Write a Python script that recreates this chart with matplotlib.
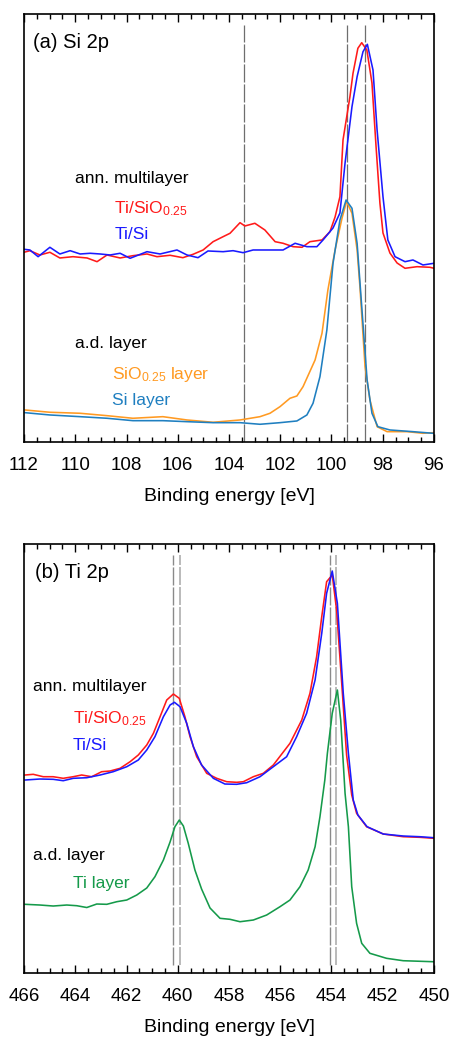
import numpy as np
import matplotlib
matplotlib.use('Agg')
import matplotlib.pyplot as plt
from matplotlib.ticker import MultipleLocator

plt.rcParams['font.family'] = ['Liberation Sans', 'DejaVu Sans']
plt.rcParams['mathtext.fontset'] = 'custom'
plt.rcParams['mathtext.rm'] = 'Liberation Sans'
plt.rcParams['mathtext.it'] = 'Liberation Sans:italic'
plt.rcParams['lines.scale_dashes'] = False

# ---------------- Si 2p (binding energy [eV], intensity [a.u.]) ----------------
si_tisio_E = [112.0, 111.77, 111.38, 110.99, 110.60, 110.09, 109.54, 109.15, 108.76, 108.25,
              107.75, 107.20, 106.81, 106.30, 105.80, 105.40, 105.01, 104.62, 104.23, 103.96,
              103.57, 103.38, 102.99, 102.60, 102.20, 101.89, 101.50, 101.15, 100.84, 100.37,
              100.06, 99.86, 99.67, 99.55, 99.28, 99.16, 98.97, 98.82, 98.62, 98.42,
              98.26, 98.11, 97.99, 97.72, 97.44, 97.13, 96.66, 96.16, 96.0]
si_tisio_I = [189.7, 191.3, 187.0, 189.7, 184.0, 185.3, 184.0, 180.3, 187.0, 184.0,
              186.3, 188.0, 185.3, 186.7, 184.3, 187.7, 192.0, 200.3, 205.3, 208.7,
              219.3, 216.0, 218.7, 212.0, 200.3, 198.7, 195.3, 194.7, 200.3, 202.0,
              210.3, 225.0, 245.3, 302.0, 345.3, 368.7, 393.7, 399.3, 392.0, 359.0,
              295.3, 239.0, 209.0, 189.0, 179.0, 173.7, 175.3, 174.7, 173.7]

si_tisi_E = [112.0, 111.77, 111.45, 110.99, 110.60, 110.20, 109.81, 109.42, 109.03, 108.64,
             108.25, 107.86, 107.20, 106.69, 106.03, 105.64, 105.21, 104.82, 104.23, 103.84,
             103.45, 103.06, 102.52, 101.89, 101.42, 100.96, 100.57, 100.33, 99.94, 99.67,
             99.47, 99.20, 99.00, 98.77, 98.60, 98.38, 98.22, 97.99, 97.80, 97.52,
             97.13, 96.82, 96.43, 96.0]
si_tisi_I = [192.7, 192.0, 185.3, 194.7, 188.0, 191.3, 188.0, 188.7, 188.0, 187.0,
             188.7, 183.7, 190.3, 188.0, 192.0, 187.0, 184.3, 191.0, 190.3, 191.3,
             189.3, 192.0, 192.0, 192.0, 198.7, 195.3, 195.3, 202.0, 214.0, 229.0,
             279.0, 335.3, 365.3, 390.3, 397.7, 372.0, 312.0, 245.3, 202.0, 185.3,
             180.3, 182.0, 177.0, 178.7]

si_sio_E = [111.96, 110.99, 109.81, 108.76, 107.75, 106.58, 105.64, 104.62, 103.57, 102.79,
            102.40, 102.01, 101.62, 101.35, 101.11, 100.64, 100.37, 100.14, 99.86, 99.59,
            99.41, 99.20, 99.00, 98.89, 98.69, 98.50, 98.22, 97.83, 97.05, 96.43, 96.04]
si_sio_I = [32.0, 29.7, 28.7, 26.3, 23.7, 25.3, 22.0, 19.7, 22.0, 25.3,
            28.7, 35.3, 43.7, 46.0, 55.3, 82.0, 108.7, 152.0, 192.0, 223.7,
            240.5, 228.7, 192.0, 155.3, 75.3, 42.0, 15.3, 10.3, 10.3, 8.7, 9.3]

si_si_E = [111.96, 110.99, 109.81, 108.76, 107.75, 106.58, 105.64, 104.62, 103.57, 102.79,
           102.01, 101.35, 100.96, 100.72, 100.45, 100.18, 99.94, 99.67, 99.43, 99.20,
           99.00, 98.81, 98.61, 98.42, 98.19, 97.72, 96.82, 96.04]
si_si_I = [29.3, 27.0, 25.3, 23.7, 21.3, 21.3, 20.3, 19.3, 19.3, 17.7,
           19.3, 21.0, 27.0, 38.7, 65.3, 112.0, 178.7, 222.0, 242.0, 233.7,
           198.7, 132.0, 62.0, 28.7, 15.3, 12.0, 10.3, 8.7]

si_ref_lines = [103.43, 99.4, 98.7]

# ---------------- Ti 2p ----------------
ti_tisio_E = [465.96, 465.64, 465.25, 464.86, 464.47, 464.08, 463.75, 463.36, 462.97, 462.64,
              462.25, 461.86, 461.54, 461.21, 460.95, 460.69, 460.43, 460.17, 459.94, 459.72,
              459.52, 459.26, 458.87, 458.48, 458.09, 457.70, 457.44, 457.05, 456.66, 456.27,
              455.62, 455.16, 454.84, 454.58, 454.38, 454.19, 453.97, 453.80, 453.60, 453.41,
              453.21, 453.02, 452.63, 451.98, 451.20, 450.55, 450.0]
ti_tisio_I = [198.0, 198.7, 196.3, 196.3, 194.7, 196.3, 198.0, 196.3, 201.3, 202.0,
              204.7, 211.3, 218.0, 228.0, 239.7, 256.3, 273.0, 279.0, 274.7, 256.3,
              236.3, 216.3, 199.7, 194.7, 191.3, 190.7, 191.3, 196.3, 199.7, 208.0,
              229.7, 253.0, 279.7, 316.3, 356.3, 391.3, 398.0, 363.0, 289.7, 218.0,
              178.0, 159.7, 146.3, 139.0, 136.3, 135.7, 134.7]

ti_tisi_E = [465.96, 465.38, 464.86, 464.47, 464.08, 463.55, 463.03, 462.52, 461.99, 461.54,
             461.21, 460.89, 460.56, 460.30, 460.13, 459.91, 459.65, 459.39, 459.07, 458.61,
             458.16, 457.70, 457.31, 456.79, 456.27, 455.75, 455.36, 454.97, 454.64, 454.38,
             454.19, 453.97, 453.77, 453.54, 453.34, 453.15, 452.97, 452.61, 451.98, 451.20,
             450.55, 450.0]
ti_tisi_I = [193.0, 194.0, 193.7, 192.3, 194.7, 195.3, 198.0, 201.3, 206.3, 213.0,
             223.0, 236.3, 256.3, 268.0, 270.7, 266.3, 249.7, 226.3, 208.0, 194.7,
             189.0, 188.7, 190.3, 196.3, 206.3, 216.3, 236.3, 259.7, 293.0, 339.7,
             379.7, 402.0, 369.7, 279.7, 219.7, 173.0, 158.0, 146.3, 139.0, 137.0,
             136.3, 135.3]

ti_ti_E = [465.96, 465.38, 464.86, 464.33, 463.94, 463.55, 463.16, 462.77, 462.38, 461.99,
           461.60, 461.21, 460.89, 460.56, 460.30, 460.11, 459.94, 459.78, 459.59, 459.33,
           459.07, 458.74, 458.35, 457.96, 457.57, 457.05, 456.53, 456.01, 455.62, 455.23,
           454.91, 454.64, 454.45, 454.26, 454.16, 453.97, 453.77, 453.64, 453.47, 453.34,
           453.21, 453.02, 452.82, 452.50, 451.85, 451.20, 450.03]
ti_ti_I = [68.7, 68.0, 67.0, 68.0, 67.3, 65.5, 69.0, 68.7, 71.3, 73.0,
           78.0, 85.0, 96.3, 113.0, 131.0, 146.3, 153.0, 147.0, 129.7, 103.0,
           84.0, 65.0, 54.7, 53.7, 51.3, 53.0, 58.0, 66.3, 73.0, 86.3,
           103.0, 126.3, 156.3, 193.0, 219.7, 259.7, 283.0, 253.0, 179.7, 146.3,
           86.3, 49.7, 29.7, 19.7, 14.7, 12.3, 11.3]

ti_ref_dark = [460.17, 454.05]
ti_ref_light = [459.9, 453.81]

C_RED = '#ff1a1a'
C_BLUE = '#1a1aff'
C_ORANGE = '#ff9a22'
C_SI = '#1f7fc0'
C_GREEN = '#159a4a'

fig = plt.figure(figsize=(4.53, 10.37), dpi=100)
ax1 = fig.add_axes([0.053, 0.5738, 0.905, 0.4127])
ax2 = fig.add_axes([0.053, 0.0617, 0.905, 0.4137])

LW = 1.15


def style_axis(ax, xmax, xmin):
    ax.set_xlim(xmax, xmin)
    ax.xaxis.set_major_locator(MultipleLocator(2))
    ax.xaxis.set_minor_locator(MultipleLocator(0.5))
    ax.set_yticks([])
    ax.tick_params(axis='x', which='both', direction='in', top=True, bottom=True,
                   labelsize=13.5, pad=11, width=1.0, colors='black')
    ax.tick_params(axis='x', which='major', length=6)
    ax.tick_params(axis='x', which='minor', length=3.5)
    for s in ax.spines.values():
        s.set_linewidth(1.2)
    ax.set_xlabel('Binding energy [eV]', fontsize=14, labelpad=10)


# (a) Si 2p
for e in si_ref_lines:
    ax1.axvline(e, ymin=0, ymax=0.974, color='#6e6e6e', lw=0.9, dashes=(13, 1.4))
ax1.plot(si_sio_E, si_sio_I, color=C_ORANGE, lw=LW)
ax1.plot(si_si_E, si_si_I, color=C_SI, lw=LW)
ax1.plot(si_tisio_E, si_tisio_I, color=C_RED, lw=LW)
ax1.plot(si_tisi_E, si_tisi_I, color=C_BLUE, lw=LW)
ax1.set_ylim(0, 428)
style_axis(ax1, 112, 96)

ax1.text(0.022, 0.920, '(a) Si 2p', transform=ax1.transAxes, fontsize=14.5, va='baseline')
ax1.text(0.124, 0.606, 'ann. multilayer', transform=ax1.transAxes, fontsize=12.5, va='baseline')
ax1.text(0.220, 0.534, r'Ti/SiO$_{0.25}$', transform=ax1.transAxes, fontsize=12.5,
         va='baseline', color=C_RED)
ax1.text(0.220, 0.474, 'Ti/Si', transform=ax1.transAxes, fontsize=12.5, va='baseline', color=C_BLUE)
ax1.text(0.124, 0.220, 'a.d. layer', transform=ax1.transAxes, fontsize=12.5, va='baseline')
ax1.text(0.214, 0.147, r'SiO$_{0.25}$ layer', transform=ax1.transAxes, fontsize=12.5,
         va='baseline', color=C_ORANGE)
ax1.text(0.214, 0.086, 'Si layer', transform=ax1.transAxes, fontsize=12.5, va='baseline', color=C_SI)

# (b) Ti 2p
for e in ti_ref_dark:
    ax2.axvline(e, ymin=0.019, ymax=0.974, color='#8a8a8a', lw=1.0, dashes=(13, 1.4))
for e in ti_ref_light:
    ax2.axvline(e, ymin=0.019, ymax=0.974, color='#b4b4b4', lw=1.3, dashes=(13, 1.4))
ax2.plot(ti_ti_E, ti_ti_I, color=C_GREEN, lw=LW)
ax2.plot(ti_tisio_E, ti_tisio_I, color=C_RED, lw=LW)
ax2.plot(ti_tisi_E, ti_tisi_I, color=C_BLUE, lw=LW)
ax2.set_ylim(0, 429)
style_axis(ax2, 466, 450)

ax2.text(0.027, 0.920, '(b) Ti 2p', transform=ax2.transAxes, fontsize=14.5, va='baseline')
ax2.text(0.023, 0.658, 'ann. multilayer', transform=ax2.transAxes, fontsize=12.5, va='baseline')
ax2.text(0.119, 0.582, r'Ti/SiO$_{0.25}$', transform=ax2.transAxes, fontsize=12.5,
         va='baseline', color=C_RED)
ax2.text(0.119, 0.521, 'Ti/Si', transform=ax2.transAxes, fontsize=12.5, va='baseline', color=C_BLUE)
ax2.text(0.023, 0.264, 'a.d. layer', transform=ax2.transAxes, fontsize=12.5, va='baseline')
ax2.text(0.120, 0.198, 'Ti layer', transform=ax2.transAxes, fontsize=12.5, va='baseline', color=C_GREEN)

fig.savefig('out.png', dpi=100)
